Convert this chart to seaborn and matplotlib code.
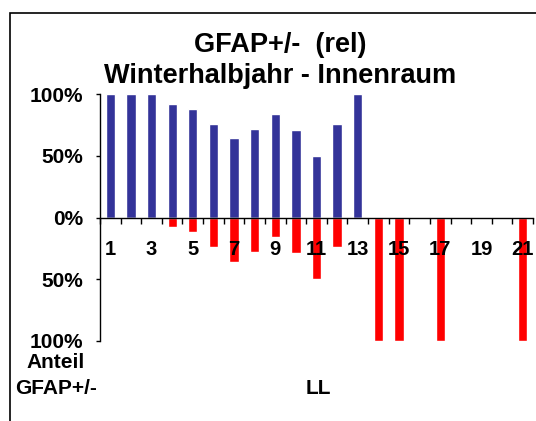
import numpy as np
import pandas as pd
import matplotlib
matplotlib.use('Agg')
import matplotlib.pyplot as plt
import matplotlib.patches as mpatches
import seaborn as sns

# LL categories and relative shares (%) of GFAP+ / GFAP-
ll = [str(i) for i in range(1, 22)]
gfap_pos = [100, 100, 100, 92, 88, 76, 64, 72, 84, 71, 50, 76, 100,
            0, 0, 0, 0, 0, 0, 0, 0]
gfap_neg = [0, 0, 0, 8, 12, 24, 36, 28, 16, 29, 50, 24, 0,
            100, 100, 0, 100, 0, 0, 0, 100]
ytick_vals = [-100, -50, 0, 50, 100]
ytick_labels = ['100%', '50%', '0%', '50%', '100%']

df = pd.DataFrame({'LL': ll, 'pos': gfap_pos,
                   'neg': [-v for v in gfap_neg]})

sns.set_style('white')
plt.rcParams['font.family'] = ['Liberation Sans', 'DejaVu Sans']
plt.rcParams['font.weight'] = 'bold'
plt.rcParams['text.color'] = 'black'
plt.rcParams['xtick.color'] = 'black'
plt.rcParams['ytick.color'] = 'black'

fig = plt.figure(figsize=(5.36, 4.21), dpi=100)
ax = fig.add_axes([100/536, 1 - 341/421, 433/536, 247/421])

sns.barplot(data=df, x='LL', y='pos', color='#333399', saturation=1,
            width=0.45, errorbar=None, ax=ax)
sns.barplot(data=df, x='LL', y='neg', color='#FF0000', saturation=1,
            width=0.45, errorbar=None, ax=ax)

# spines first: moving the bottom spine resets the ticks
for s in ['top', 'right']:
    ax.spines[s].set_visible(False)
ax.spines['bottom'].set_position(('data', 0))
for s in ['left', 'bottom']:
    ax.spines[s].set_color('black')
    ax.spines[s].set_linewidth(1)
ax.set_axisbelow(False)

ax.set_ylim(-100, 100)
ax.set_xlim(-0.5, len(ll) - 0.5)
ax.set_yticks(ytick_vals)
ax.set_yticklabels(ytick_labels)
ax.set_xticks(range(len(ll)))
ax.set_xticklabels([l if int(l) % 2 == 1 else '' for l in ll])
ax.set_xticks(np.arange(-0.5, len(ll), 1), minor=True)
ax.tick_params(axis='x', which='major', bottom=True, length=0, pad=16,
               labelsize=14.5)
ax.tick_params(axis='x', which='minor', bottom=True, length=4, width=1,
               color='black', direction='out')
ax.tick_params(axis='y', length=3, width=1, color='black', pad=9,
               direction='out', left=True, labelsize=15)
for lab in ax.get_xticklabels() + ax.get_yticklabels():
    lab.set_fontweight('bold')
ax.set_xlabel('')
ax.set_ylabel('')

fig.text(280/536, 1 - 45/421, 'GFAP+/-  (rel)', ha='center', va='center',
         fontsize=19.5, fontweight='bold')
fig.text(280/536, 1 - 76/421, 'Winterhalbjahr - Innenraum', ha='center',
         va='center', fontsize=19.5, fontweight='bold')
fig.text(56/536, 1 - 363/421, 'Anteil', ha='center', va='center',
         fontsize=15, fontweight='bold')
fig.text(56/536, 1 - 389/421, 'GFAP+/-', ha='center', va='center',
         fontsize=15, fontweight='bold')
fig.text(318/536, 1 - 388/421, 'LL', ha='center', va='center',
         fontsize=15, fontweight='bold')

frame = mpatches.Rectangle((10/536, -0.1), 1.0, 1.1 - 12.5/421,
                           transform=fig.transFigure, fill=False,
                           lw=1.2, ec='black')
fig.patches.append(frame)

fig.savefig('out.png', dpi=100)
